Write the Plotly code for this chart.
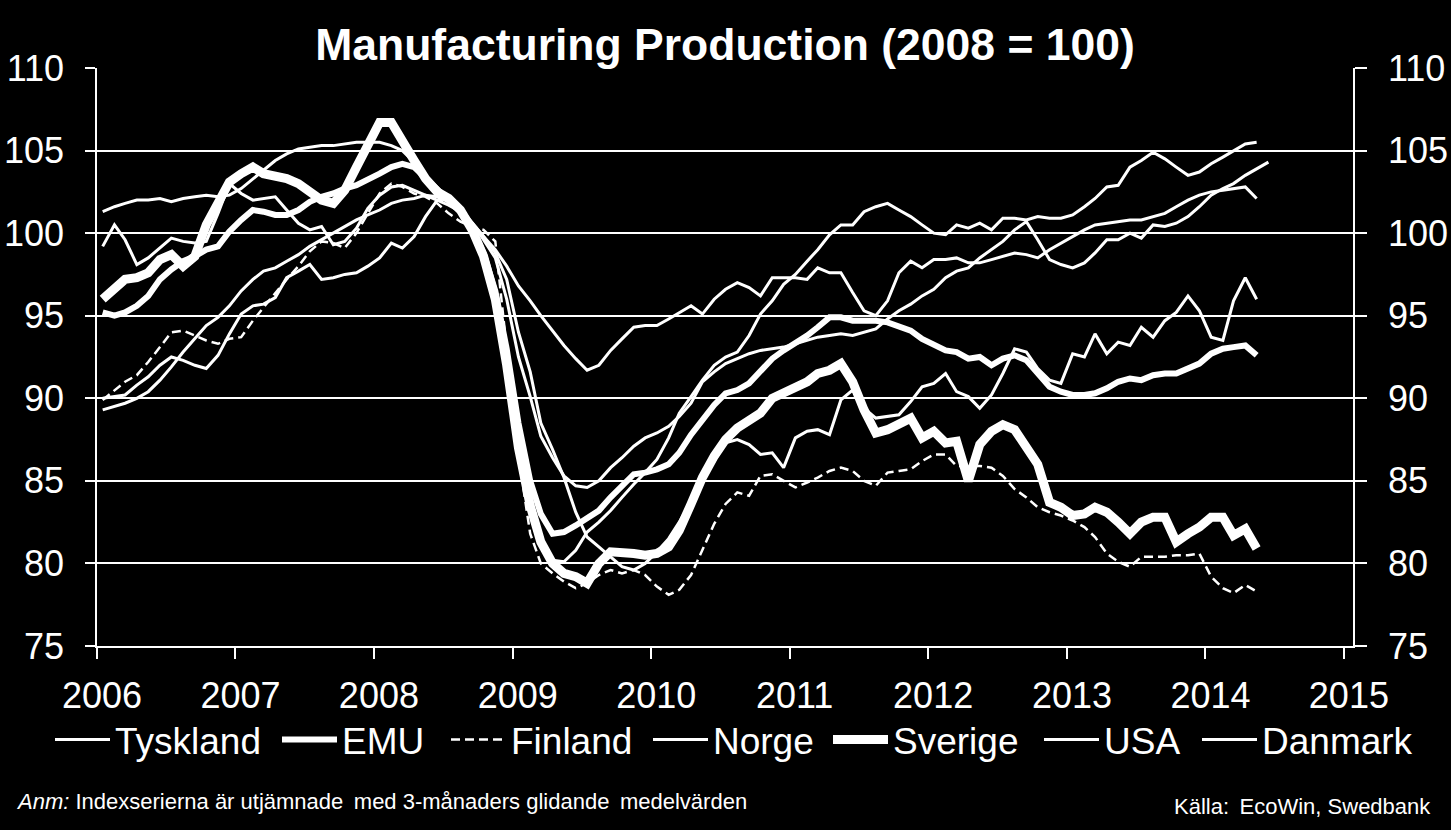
import pandas as pd
import plotly.graph_objects as go

# Monthly index values (2008 = 100), Jan 2006 onwards
tyskland = [89.3, 89.5, 89.7, 90.0, 90.4, 91.1, 91.9, 92.8, 93.6, 94.4, 94.9, 95.6,
            96.5, 97.2, 97.7, 97.9, 98.3, 98.7, 99.2, 99.6, 100.0, 100.4, 100.8, 101.1,
            101.4, 101.8, 102.0, 102.1, 102.3, 102.2, 101.9, 101.2, 100.2, 98.8, 96.5, 92.5,
            88.0, 84.0, 81.5, 80.2, 80.1, 80.8, 81.9, 82.5, 83.2, 84.0, 84.8, 85.5,
            86.3, 87.6, 89.1, 90.1, 91.1, 92.0, 92.5, 92.8, 93.8, 95.1, 95.9, 96.9,
            97.5, 98.3, 99.0, 99.9, 100.5, 100.5, 101.3, 101.6, 101.8, 101.4, 101.0, 100.5,
            100.0, 99.9, 100.5, 100.3, 100.6, 100.2, 100.9, 100.9, 100.8, 101.0, 100.9, 100.9,
            101.1, 101.6, 102.1, 102.8, 102.9, 104.0, 104.4, 104.9, 104.5, 104.0, 103.5, 103.7,
            104.2, 104.6, 105.0, 105.4, 105.5]
emu = [95.2, 95.0, 95.2, 95.6, 96.2, 97.2, 97.8, 98.3, 98.6, 99.0, 99.2, 100.1,
       100.8, 101.4, 101.3, 101.1, 101.1, 101.4, 101.9, 102.2, 102.4, 102.7, 102.9, 103.2,
       103.6, 104.0, 104.2, 104.0, 103.3, 102.6, 102.0, 101.3, 100.3, 98.8, 96.5, 93.0,
       88.5, 85.0, 83.0, 81.8, 81.9, 82.3, 82.7, 83.2, 84.0, 84.7, 85.4, 85.5,
       85.7, 86.0, 86.7, 87.8, 88.7, 89.6, 90.3, 90.5, 90.9, 91.6, 92.4, 92.9,
       93.3, 93.8, 94.3, 94.9, 94.9, 94.7, 94.7, 94.7, 94.6, 94.4, 94.1, 93.6,
       93.2, 92.9, 92.8, 92.4, 92.5, 92.0, 92.4, 92.6, 92.3, 91.5, 90.7, 90.4,
       90.2, 90.2, 90.3, 90.6, 91.0, 91.2, 91.1, 91.4, 91.5, 91.5, 91.8, 92.1,
       92.7, 93.0, 93.1, 93.2, 92.6]
finland = [89.9, 90.5, 91.0, 91.4, 92.2, 93.1, 94.0, 94.1, 93.8, 93.5, 93.3, 93.6,
           93.7, 94.7, 95.5, 96.4, 97.2, 98.0, 98.9, 99.5, 99.4, 99.1, 100.0, 101.2,
           102.4, 103.0, 102.8, 102.4, 102.2, 101.8, 101.2, 100.7, 100.4, 100.2, 99.5, 93.0,
           86.5, 81.8, 80.0, 79.4, 78.9, 78.5, 78.8, 79.3, 79.6, 79.4, 79.6, 79.3,
           78.6, 78.1, 78.4, 79.3, 80.8, 82.4, 83.6, 84.3, 84.1, 85.3, 85.4, 85.0,
           84.6, 84.9, 85.2, 85.6, 85.8, 85.6, 85.0, 84.7, 85.5, 85.6, 85.7, 86.2,
           86.6, 86.6, 85.9, 85.9, 85.9, 85.8, 85.3, 84.5, 84.0, 83.4, 83.1, 82.9,
           82.6, 82.2, 81.6, 80.6, 80.1, 79.8, 80.4, 80.4, 80.4, 80.5, 80.5, 80.6,
           79.2, 78.5, 78.2, 78.7, 78.3]
norge = [90.0, 90.1, 90.2, 90.8, 91.3, 92.0, 92.5, 92.3, 92.0, 91.8, 92.6, 93.9,
         95.1, 95.6, 95.7, 96.1, 97.3, 97.7, 98.1, 97.2, 97.3, 97.5, 97.6, 98.0,
         98.5, 99.4, 99.1, 99.8, 101.0, 102.0, 102.1, 101.5, 100.6, 99.8, 99.0, 98.0,
         96.8, 95.9, 95.0, 94.1, 93.2, 92.4, 91.7, 92.0, 92.9, 93.6, 94.3, 94.4,
         94.4, 94.8, 95.2, 95.6, 95.1, 96.0, 96.6, 97.0, 96.7, 96.2, 97.3, 97.3,
         97.3, 97.2, 97.9, 97.6, 97.6, 96.4, 95.3, 95.0, 95.9, 97.6, 98.3, 97.9,
         98.4, 98.4, 98.5, 98.2, 98.2, 98.4, 98.6, 98.8, 98.7, 98.5, 99.0, 99.4,
         99.8, 100.2, 100.5, 100.6, 100.7, 100.8, 100.8, 101.0, 101.2, 101.6, 102.0, 102.3,
         102.5, 102.6, 102.7, 102.8, 102.1]
sverige = [96.0, 96.6, 97.2, 97.3, 97.6, 98.4, 98.7, 98.0, 98.6, 100.5, 101.8, 103.1,
           103.6, 104.0, 103.6, 103.5, 103.3, 103.0, 102.5, 102.0, 101.8, 102.6, 104.0, 105.3,
           106.7, 106.7, 105.5, 104.4, 103.3, 102.5, 102.1, 101.4, 100.2, 98.6, 96.0, 92.0,
           87.0, 83.5, 81.3, 80.0, 79.4, 79.2, 78.8, 80.0, 80.7, 80.7, 80.6, 80.5,
           80.6, 81.0, 82.0, 83.6, 85.2, 86.5, 87.5, 88.2, 88.7, 89.1, 90.0, 90.3,
           90.6, 91.0, 91.5, 91.7, 92.1, 91.0, 89.3, 87.9, 88.1, 88.5, 88.8, 87.6,
           88.0, 87.3, 87.4, 85.0, 87.2, 88.0, 88.4, 88.1, 86.9, 86.0, 83.7, 83.4,
           82.9, 83.0, 83.4, 83.1, 82.5, 81.8, 82.5, 82.8, 82.8, 81.3, 81.8, 82.2,
           82.8, 82.8, 81.7, 82.1, 80.9]
usa = [101.3, 101.6, 101.8, 102.0, 102.0, 102.1, 101.9, 102.1, 102.2, 102.3, 102.2, 102.3,
       102.7, 103.3, 103.8, 104.4, 104.8, 105.1, 105.2, 105.3, 105.3, 105.4, 105.5, 105.5,
       105.5, 105.3, 105.0, 104.3, 103.4, 102.7, 102.1, 101.4, 100.6, 99.6, 98.5, 96.0,
       92.5, 90.1, 87.7, 86.4, 85.3, 84.7, 84.6, 85.0, 85.8, 86.4, 87.1, 87.6,
       87.9, 88.3, 88.9, 89.7, 91.0, 91.6, 92.1, 92.4, 92.7, 92.9, 93.0, 93.1,
       93.3, 93.5, 93.7, 93.8, 93.9, 93.8, 94.0, 94.2, 94.8, 95.3, 95.7, 96.2,
       96.6, 97.3, 97.7, 97.9, 98.5, 99.0, 99.5, 100.2, 100.7, 99.6, 98.4, 98.1,
       97.9, 98.2, 98.8, 99.6, 99.6, 100.0, 99.7, 100.5, 100.4, 100.6, 101.0, 101.6,
       102.3, 102.7, 103.0, 103.5, 103.9, 104.3]
danmark = [99.2, 100.5, 99.6, 98.1, 98.5, 99.1, 99.7, 99.5, 99.4, 99.5, 101.2, 103.0,
           102.4, 102.0, 102.1, 102.2, 101.4, 100.6, 100.2, 100.4, 99.3, 99.5, 100.3, 101.5,
           102.3, 102.8, 102.9, 102.6, 102.3, 102.0, 101.7, 101.3, 100.6, 99.8, 98.8, 97.2,
           94.0, 91.6, 88.5, 86.9, 85.2, 83.1, 81.6, 81.0, 80.4, 79.8, 79.6, 80.0,
           80.7, 81.5, 82.5, 83.8, 85.0, 86.2, 87.3, 87.5, 87.2, 86.6, 86.7, 85.8,
           87.6, 88.0, 88.1, 87.8, 89.9, 90.5, 89.4, 88.8, 88.9, 89.0, 89.8, 90.7,
           90.9, 91.5, 90.4, 90.1, 89.4, 90.2, 91.5, 93.0, 92.8, 91.8, 91.1, 90.9,
           92.7, 92.5, 93.9, 92.7, 93.4, 93.2, 94.3, 93.7, 94.7, 95.2, 96.2, 95.3,
           93.7, 93.5, 95.9, 97.3, 96.0]

year_ticks = ["2006", "2007", "2008", "2009", "2010", "2011", "2012", "2013", "2014", "2015"]


def months(n):
    return pd.date_range("2006-01-01", periods=n, freq="MS") + pd.Timedelta(days=15)


FONT = "Liberation Sans, Arial, sans-serif"
W = "white"

series = [
    ("Tyskland", tyskland, dict(color=W, width=3), "y"),
    ("EMU", emu, dict(color=W, width=6), "y"),
    ("Finland", finland, dict(color=W, width=2.5, dash="9px,5px"), "y"),
    ("Norge", norge, dict(color=W, width=3), "y"),
    ("Sverige", sverige, dict(color=W, width=9), "y"),
    ("USA", usa, dict(color=W, width=3), "y"),
    ("Danmark", danmark, dict(color=W, width=3), "y2"),
]
# left pixel of each legend entry (one legend box per series)
legend_left_px = [50, 277, 446, 648, 828, 1039, 1197]

fig = go.Figure()
for i, (name, vals, line, yax) in enumerate(series):
    lg = "legend" if i == 0 else f"legend{i + 1}"
    fig.add_trace(go.Scatter(x=months(len(vals)), y=vals, name=name, mode="lines",
                             line=line, yaxis=yax, legend=lg))

axis_common = dict(range=[75, 110], dtick=5, tick0=75, ticks="outside",
                   tickcolor=W, tickwidth=1.5, showline=True, linecolor=W, linewidth=1.5,
                   tickfont=dict(family=FONT, size=36, color=W), zeroline=False,
                   automargin=False)

legends = {}
for i, px in enumerate(legend_left_px):
    key = "legend" if i == 0 else f"legend{i + 1}"
    legends[key] = dict(orientation="h", xref="paper", x=(px - 97) / 1256, xanchor="left",
                        yref="paper", y=-(740 - 646) / 578, yanchor="middle",
                        font=dict(family=FONT, size=37, color=W),
                        bgcolor="rgba(0,0,0,0)", itemwidth=55)

fig.update_layout(
    width=1451, height=830, autosize=False,
    paper_bgcolor="black", plot_bgcolor="black",
    margin=dict(l=97, r=98, t=68, b=184, autoexpand=False),
    title=dict(text="<b>Manufacturing Production (2008 = 100)</b>",
               font=dict(family=FONT, size=44.5, color=W),
               x=0.5, xanchor="center", xref="paper",
               y=1 - 44 / 830, yanchor="middle", yref="container"),
    xaxis=dict(type="date", range=["2006-01-01", "2015-01-25"],
               tickvals=[f"{y}-01-01" for y in year_ticks], ticktext=year_ticks,
               ticks="outside", ticklen=11, tickwidth=1.5, tickcolor=W,
               showline=True, linecolor=W, linewidth=2, showgrid=False, zeroline=False,
               tickfont=dict(family=FONT, size=36, color=W), automargin=False,
               ticklabelshift=5, ticklabelstandoff=6),
    yaxis=dict(**axis_common, side="left", ticklen=10, showgrid=True,
               gridcolor=W, gridwidth=2, ticklabelstandoff=14),
    yaxis2=dict(**axis_common, side="right", overlaying="y", ticklen=12,
                showgrid=False, ticklabelstandoff=14),
    showlegend=True,
    annotations=[
        dict(text="<i>Anm:</i> Indexserierna är utjämnade \u2009med 3-månaders glidande \u2009medelvärden",
             xref="paper", yref="paper", x=(14 - 97) / 1256, xanchor="left",
             y=-(801 - 646) / 578, yanchor="middle", showarrow=False,
             font=dict(family=FONT, size=22, color=W)),
        dict(text="Källa: \u2009EcoWin, Swedbank",
             xref="paper", yref="paper", x=(1433 - 97) / 1256, xanchor="right",
             y=-(806 - 646) / 578, yanchor="middle", showarrow=False,
             font=dict(family=FONT, size=22, color=W)),
    ],
    **legends,
)

fig.write_html("out.html", config={"displayModeBar": False},
               post_script="document.body.style.margin='0';document.body.style.overflow='hidden';")
